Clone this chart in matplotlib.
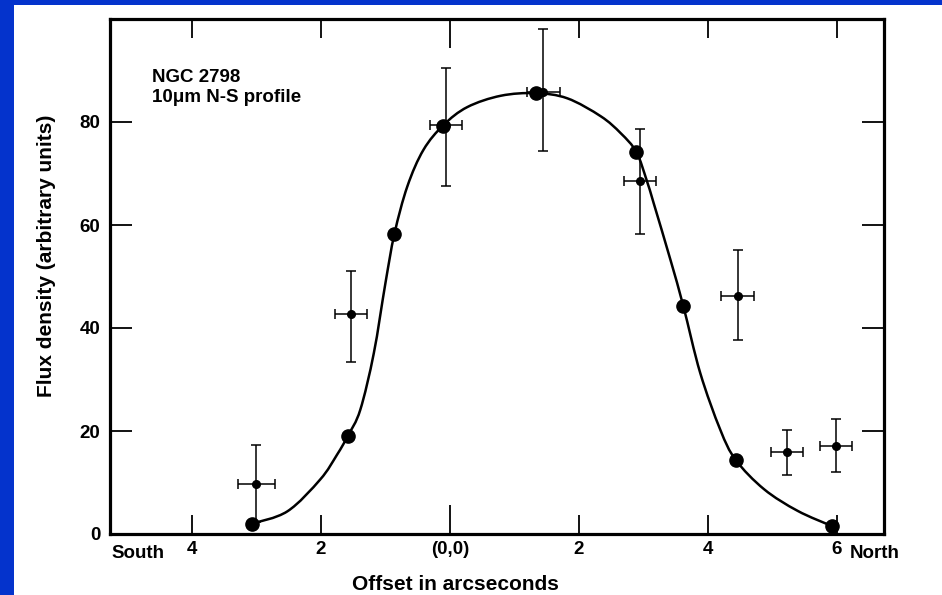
import matplotlib
matplotlib.use("Agg")
import matplotlib.pyplot as plt
from matplotlib.patches import Rectangle, PathPatch
from matplotlib.path import Path

plt.rcParams['font.family'] = ['Liberation Sans', 'DejaVu Sans']
plt.rcParams['font.weight'] = 'bold'
plt.rcParams['axes.labelweight'] = 'bold'

# ---- data (offset in arcsec; south negative, north positive) ----
model_x = [-3.07, -1.58, -0.86, -0.10, 1.33, 2.89, 3.62, 4.43, 5.93]
model_y = [2.0, 19.1, 58.3, 79.3, 85.6, 74.2, 44.2, 14.4, 1.5]

curve_x = [-3.07, -2.52, -2.01, -1.75, -1.58, -1.39, -1.18, -1.00, -0.86, -0.66,
           -0.41, -0.10, 0.27, 0.79, 1.33, 1.82, 2.34, 2.65, 2.89, 3.05, 3.16,
           3.42, 3.62, 3.88, 4.19, 4.43, 4.87, 5.39, 5.93]
curve_y = [2.0, 4.4, 10.6, 15.4, 19.1, 24.1, 35.1, 48.7, 58.3, 67.5,
           74.6, 79.4, 82.9, 85.1, 85.6, 84.6, 81.1, 77.8, 74.2, 68.7, 64.2,
           53.2, 44.2, 31.3, 20.3, 14.4, 8.7, 4.5, 1.5]

obs_x = [-3.00, -1.53, -0.06, 1.45, 2.95, 4.46, 5.23, 5.98]
obs_y = [9.8, 42.7, 79.4, 85.9, 68.6, 46.3, 15.9, 17.0]
obs_err_lo = [7.4, 9.3, 11.8, 11.5, 10.3, 8.6, 4.4, 5.0]
obs_err_hi = [7.4, 8.3, 11.0, 12.1, 10.0, 8.9, 4.2, 5.3]
obs_xerr = [0.29, 0.25, 0.245, 0.25, 0.25, 0.25, 0.25, 0.25]

xticks = [-4, -2, 0, 2, 4, 6]
xticklabels = ['4', '2', '(0,0)', '2', '4', '6']
yticks = [0, 20, 40, 60, 80]
yticklabels = ['0', '20', '40', '60', '80']

BLUE = '#0433CC'
fig = plt.figure(figsize=(9.42, 5.95), dpi=100)
fig.patch.set_facecolor(BLUE)
bg = Rectangle((14 / 942, 0), 1, (595 - 5) / 595,
               transform=fig.transFigure, facecolor='white',
               edgecolor='none', zorder=-10)
fig.add_artist(bg)

ax = fig.add_axes([110 / 942, 1 - 534 / 595, 774 / 942, 515 / 595])
ax.set_facecolor('white')
ax.set_zorder(5)

# smooth curve through the read points (Catmull-Rom rendered as cubic Beziers)
pts = list(zip(curve_x, curve_y))
verts = [pts[0]]
codes = [Path.MOVETO]
n = len(pts)
for i in range(n - 1):
    p0 = pts[i - 1] if i > 0 else pts[i]
    p1 = pts[i]
    p2 = pts[i + 1]
    p3 = pts[i + 2] if i + 2 < n else pts[i + 1]
    c1 = (p1[0] + (p2[0] - p0[0]) / 6, p1[1] + (p2[1] - p0[1]) / 6)
    c2 = (p2[0] - (p3[0] - p1[0]) / 6, p2[1] - (p3[1] - p1[1]) / 6)
    verts += [c1, c2, p2]
    codes += [Path.CURVE4] * 3
ax.add_patch(PathPatch(Path(verts, codes), facecolor='none',
                       edgecolor='black', lw=1.8, zorder=2))

ax.plot(model_x, model_y, 'o', color='black', ms=9.5, zorder=3)
ax.errorbar(obs_x, obs_y, yerr=[obs_err_lo, obs_err_hi], xerr=obs_xerr,
            fmt='o', color='black', ms=5.5, elinewidth=1.1, capsize=3.5,
            capthick=1.1, zorder=4)

ax.set_xlim(-5.27, 6.73)
ax.set_ylim(0, 100)

for s in ax.spines.values():
    s.set_linewidth(2.3)

ax.set_xticks(xticks)
ax.set_xticklabels(xticklabels)
ax.set_yticks(yticks)
ax.set_yticklabels(yticklabels)
ax.tick_params(axis='x', direction='in', top=True, bottom=True, length=14,
               width=1.3, labelsize=13.5, pad=5)
ax.tick_params(axis='y', direction='in', left=True, right=True, length=16,
               width=1.3, labelsize=13.5, pad=7)
# longer tick at the origin
zt = ax.xaxis.get_major_ticks()[2]
zt.tick1line.set_markersize(21)
zt.tick2line.set_markersize(21)

ax.text(-4.84, -0.021, 'South', transform=ax.get_xaxis_transform(),
        ha='center', va='top', fontsize=13.5)
ax.text(6.2, -0.021, 'North', transform=ax.get_xaxis_transform(),
        ha='left', va='top', fontsize=13.5)

ax.set_xlabel('Offset in arcseconds', fontsize=15)
ax.xaxis.set_label_coords(0.446, -0.08)
ax.set_ylabel('Flux density (arbitrary units)', fontsize=15)
ax.yaxis.set_label_coords(-0.07, 0.54)

ax.text(0.054, 0.903, 'NGC 2798\n10\u03bcm N-S profile', transform=ax.transAxes,
        ha='left', va='top', fontsize=13.5, linespacing=1.2)

fig.savefig('out.png', dpi=100, facecolor=fig.get_facecolor())
